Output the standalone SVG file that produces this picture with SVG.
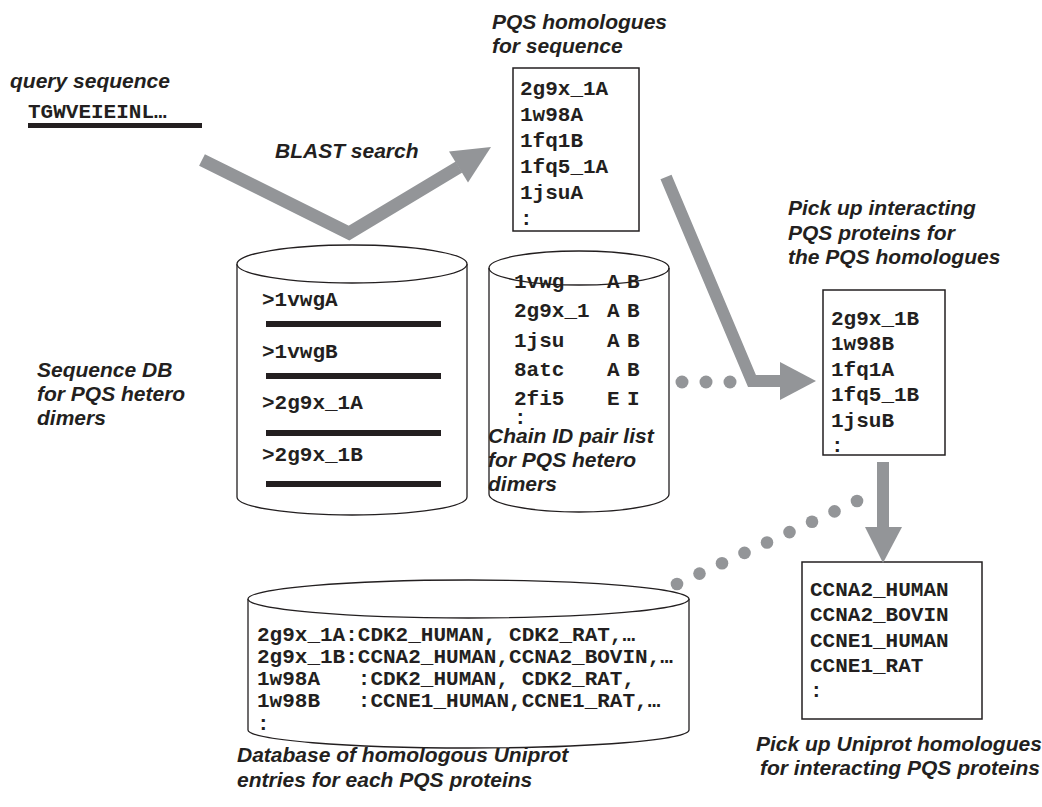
<svg xmlns="http://www.w3.org/2000/svg" width="1042" height="807" viewBox="0 0 1042 807">
  <style>
    .mono { font-family: "Liberation Mono", "Courier New", monospace; font-weight: bold; font-size: 21px; fill: #231f20; white-space: pre; }
    .label { font-family: "Liberation Sans", Arial, sans-serif; font-weight: bold; font-style: italic; font-size: 21px; fill: #231f20; }
    .box { fill: #ffffff; stroke: #231f20; stroke-width: 1.5; }
    .cyl { fill: #ffffff; stroke: #231f20; stroke-width: 1.3; }
    .rim { fill: none; stroke: #231f20; stroke-width: 1.3; }
    .bar { fill: #231f20; }
    .shaft { fill: none; stroke: #939598; stroke-linejoin: miter; stroke-miterlimit: 10; }
    .head { fill: #939598; }
    .dot { fill: #939598; }
  </style>

  <!-- query sequence -->
  <g id="query">
    <text class="label" x="10" y="88">query sequence</text>
    <text class="mono" x="28" y="118">TGWVEIEINL…</text>
    <rect class="bar" x="28" y="123" width="174" height="5"/>
  </g>

  <g id="blast-label">
    <text class="label" x="275" y="158">BLAST search</text>
  </g>

  <!-- PQS homologues found for the query -->
  <g id="pqs-homologues">
    <text class="label" x="492" y="29">PQS homologues</text>
    <text class="label" x="492" y="53">for sequence</text>
    <rect class="box" x="513" y="68" width="126" height="163"/>
    <text class="mono" x="520" y="95">2g9x_1A</text>
    <text class="mono" x="520" y="121">1w98A</text>
    <text class="mono" x="520" y="147">1fq1B</text>
    <text class="mono" x="520" y="173">1fq5_1A</text>
    <text class="mono" x="520" y="199">1jsuA</text>
    <text class="mono" x="520" y="225">:</text>
  </g>

  <!-- sequence database of hetero dimers -->
  <g id="sequence-db">
    <path class="cyl" d="M237,264 L237,497 A115,18 0 0 0 467,497 L467,264"/>
    <ellipse class="cyl" cx="352" cy="264" rx="115" ry="19"/>
    <text class="mono" x="262" y="306">&gt;1vwgA</text>
    <rect class="bar" x="266" y="321" width="175" height="6"/>
    <text class="mono" x="262" y="358">&gt;1vwgB</text>
    <rect class="bar" x="266" y="373" width="175" height="6"/>
    <text class="mono" x="262" y="409">&gt;2g9x_1A</text>
    <rect class="bar" x="266" y="430" width="175" height="6"/>
    <text class="mono" x="262" y="461">&gt;2g9x_1B</text>
    <rect class="bar" x="266" y="481" width="175" height="6"/>
    <text class="label" x="37" y="377">Sequence DB</text>
    <text class="label" x="37" y="401">for PQS hetero</text>
    <text class="label" x="37" y="425">dimers</text>
  </g>

  <!-- chain ID pair list -->
  <g id="chain-pair-list">
    <path class="cyl" d="M489,268 L489,494 A90,18 0 0 0 669,494 L669,268"/>
    <text class="mono" y="288"><tspan x="514">1vwg</tspan><tspan x="607">A</tspan><tspan x="627">B</tspan></text>
    <text class="mono" y="317"><tspan x="514">2g9x_1</tspan><tspan x="607">A</tspan><tspan x="627">B</tspan></text>
    <text class="mono" y="347"><tspan x="514">1jsu</tspan><tspan x="607">A</tspan><tspan x="627">B</tspan></text>
    <text class="mono" y="376"><tspan x="514">8atc</tspan><tspan x="607">A</tspan><tspan x="627">B</tspan></text>
    <text class="mono" y="405"><tspan x="514">2fi5</tspan><tspan x="607">E</tspan><tspan x="627">I</tspan></text>
    <text class="mono" x="514" y="424">:</text>
    <ellipse class="rim" cx="579" cy="268" rx="90" ry="17"/>
    <text class="label" x="488" y="443" font-size="22">Chain ID pair list</text>
    <text class="label" x="488" y="467" font-size="22">for PQS hetero</text>
    <text class="label" x="488" y="491" font-size="22">dimers</text>
  </g>

  <!-- interacting PQS proteins -->
  <g id="interacting-pqs">
    <text class="label" x="788" y="215">Pick up interacting</text>
    <text class="label" x="788" y="240">PQS proteins for</text>
    <text class="label" x="788" y="264">the PQS homologues</text>
    <rect class="box" x="823" y="290" width="122" height="165"/>
    <text class="mono" x="831" y="325">2g9x_1B</text>
    <text class="mono" x="831" y="350">1w98B</text>
    <text class="mono" x="831" y="376">1fq1A</text>
    <text class="mono" x="831" y="401">1fq5_1B</text>
    <text class="mono" x="831" y="427">1jsuB</text>
    <text class="mono" x="831" y="452">:</text>
  </g>

  <!-- Uniprot homologues -->
  <g id="uniprot-homologues">
    <rect class="box" x="802" y="562" width="180" height="157"/>
    <text class="mono" x="810" y="596">CCNA2_HUMAN</text>
    <text class="mono" x="810" y="621">CCNA2_BOVIN</text>
    <text class="mono" x="810" y="647">CCNE1_HUMAN</text>
    <text class="mono" x="810" y="672">CCNE1_RAT</text>
    <text class="mono" x="810" y="697">:</text>
    <text class="label" x="756" y="751">Pick up Uniprot homologues</text>
    <text class="label" x="760" y="775">for interacting PQS proteins</text>
  </g>

  <!-- database of homologous Uniprot entries -->
  <g id="uniprot-db">
    <path class="cyl" d="M248,599 L248,730 A220.5,18 0 0 0 689,730 L689,599"/>
    <ellipse class="cyl" cx="468.5" cy="599" rx="220.5" ry="19"/>
    <text class="mono" x="257" y="641">2g9x_1A:CDK2_HUMAN, CDK2_RAT,…</text>
    <text class="mono" x="257" y="663">2g9x_1B:CCNA2_HUMAN,CCNA2_BOVIN,…</text>
    <text class="mono" x="257" y="685">1w98A   :CDK2_HUMAN, CDK2_RAT,</text>
    <text class="mono" x="257" y="707">1w98B   :CCNE1_HUMAN,CCNE1_RAT,…</text>
    <text class="mono" x="257" y="730">:</text>
    <text class="label" x="237" y="762">Database of homologous Uniprot</text>
    <text class="label" x="237" y="787">entries for each PQS proteins</text>
  </g>

  <!-- connectors -->
  <g id="connectors">
    <polyline class="shaft" stroke-width="13" points="202,160 349,233 459,167"/>
    <polygon class="head" points="491,147 449,151.5 468,182.5"/>

    <polyline class="shaft" stroke-width="12" points="666,177 752,381 782,381"/>
    <polygon class="head" points="780,362 816,381 780,400"/>

    <line class="shaft" stroke-width="12" x1="883" y1="462" x2="883" y2="528"/>
    <polygon class="head" points="865,527 902,527 883,563"/>

    <g id="dots-pairlist">
      <circle class="dot" cx="682" cy="382" r="6.5"/>
      <circle class="dot" cx="706" cy="382" r="6.5"/>
      <circle class="dot" cx="730" cy="382" r="6.5"/>
    </g>
    <g id="dots-uniprot-db">
      <circle class="dot" cx="677" cy="584" r="6.3"/>
      <circle class="dot" cx="699.5" cy="573.6" r="6.3"/>
      <circle class="dot" cx="722" cy="563.3" r="6.3"/>
      <circle class="dot" cx="744.5" cy="552.9" r="6.3"/>
      <circle class="dot" cx="767" cy="542.5" r="6.3"/>
      <circle class="dot" cx="789.5" cy="532.1" r="6.3"/>
      <circle class="dot" cx="812" cy="521.8" r="6.3"/>
      <circle class="dot" cx="834.5" cy="511.4" r="6.3"/>
      <circle class="dot" cx="857" cy="501" r="6.3"/>
    </g>
  </g>
</svg>
